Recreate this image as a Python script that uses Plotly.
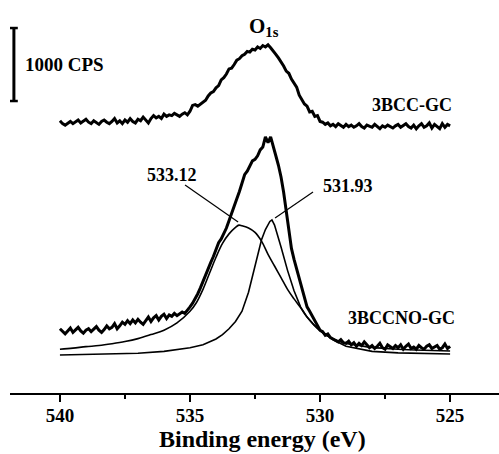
import numpy as np
import plotly.graph_objects as go

# ---- data ----
# measured spectra: binding energy 540.0 -> 525.0 eV, step 0.1 eV (CPS)
energy_raw = [round(540.0 - 0.1 * i, 1) for i in range(151)]

bcc_gc = [
    3730, 3690, 3670, 3700, 3720, 3690, 3710, 3740, 3700, 3720,
    3750, 3710, 3690, 3730, 3700, 3680, 3720, 3740, 3710, 3690,
    3720, 3760, 3700, 3730, 3690, 3740, 3710, 3760, 3720, 3700,
    3750, 3730, 3780, 3740, 3700, 3760, 3800, 3770, 3790, 3760,
    3820, 3790, 3810, 3800, 3830, 3810, 3790, 3820, 3840, 3810,
    3860, 3940, 3950, 3930, 3960, 3980, 4010, 4070, 4110, 4130,
    4180, 4210, 4290, 4320, 4370, 4440, 4450, 4500, 4560, 4580,
    4620, 4640, 4680, 4670, 4710, 4700, 4740, 4720, 4760, 4740,
    4770, 4730, 4690, 4640, 4590, 4540, 4480, 4410, 4380, 4300,
    4250, 4190, 4080, 4010, 3960, 3930, 3850, 3860, 3790, 3800,
    3720, 3710, 3680, 3700, 3660, 3680, 3650, 3690, 3660, 3640,
    3680, 3650, 3670, 3640, 3660, 3690, 3650, 3630, 3670, 3660,
    3640, 3680, 3650, 3620, 3660, 3640, 3670, 3650, 3630, 3660,
    3680, 3640, 3660, 3690, 3650, 3630, 3670, 3620, 3660, 3690,
    3640, 3660, 3700, 3630, 3680, 3650, 3620, 3690, 3640, 3680,
    3660,
]

bccno_gc = [
    880, 840, 810, 850, 890, 830, 870, 900, 850, 820,
    860, 880, 840, 870, 910, 860, 830, 870, 920, 880,
    900, 950, 880, 920, 970, 940, 990, 950, 1000, 960,
    1010, 970, 940, 990, 1040, 980, 1030, 1060, 1000, 1050,
    1080, 1020, 1070, 1050, 1090, 1060, 1080, 1110, 1090, 1130,
    1180, 1230, 1290, 1360, 1440, 1530, 1610, 1720, 1790, 1870,
    1960, 2060, 2110, 2180, 2260, 2360, 2470, 2580, 2660, 2760,
    2860, 2990, 3040, 3110, 3180, 3200, 3250, 3330, 3370, 3510,
    3430, 3510, 3360, 3250, 3120, 2960, 2750, 2470, 2200, 1980,
    1830, 1700, 1590, 1430, 1310, 1180, 1120, 1050, 990, 920,
    860, 840, 790, 810, 760, 740, 720, 700, 730, 690,
    680, 710, 660, 690, 640, 680, 650, 700, 660, 620,
    650, 610, 640, 680, 620, 600, 660, 630, 610, 650,
    620, 660, 600, 640, 670, 610, 630, 600, 650, 620,
    600, 640, 660, 610, 630, 650, 600, 620, 670, 610,
    640,
]

# fitted components
energy_fit1 = [540, 539.5, 539, 538.5, 538, 537.5, 537, 536.5, 536, 535.5, 535,
               534.75, 534.5, 534.25, 534, 533.75, 533.5, 533.25, 533.12, 533,
               532.75, 532.5, 532.25, 532, 531.75, 531.5, 531.25, 531, 530.75,
               530.5, 530, 529.5, 529, 528.5, 528, 527, 526, 525]
fit_533 = [600, 615, 635, 650, 675, 705, 745, 800, 860, 960, 1120,
           1240, 1420, 1640, 1860, 2050, 2180, 2270, 2300, 2290,
           2260, 2200, 2080, 1900, 1740, 1580, 1420, 1290, 1170,
           1040, 850, 740, 680, 650, 625, 600, 585, 575]

energy_fit2 = [540, 539, 538, 537, 536, 535, 534.5, 534, 533.75, 533.5, 533.25,
               533, 532.75, 532.5, 532.25, 532.1, 531.93, 531.85, 531.75, 531.5,
               531.25, 531, 530.75, 530.5, 530.25, 530, 529.5, 529, 528.5, 528,
               527, 526, 525]
fit_531 = [520, 525, 530, 545, 570, 620, 660, 740, 800, 880, 980,
           1120, 1380, 1740, 2100, 2240, 2350, 2370, 2300, 2000,
           1680, 1400, 1180, 1040, 940, 860, 730, 640, 600, 570,
           550, 540, 535]

x_ticks = [540, 535, 530, 525]
x_tick_labels = ["540", "535", "530", "525"]
x_minor_ticks = [537.5, 532.5, 527.5]

FONT = "Liberation Serif"

fig = go.Figure()
fig.add_trace(go.Scatter(x=energy_fit1, y=fit_533, mode="lines", line=dict(color="black", width=1.6, shape="spline"),
                         showlegend=False, hoverinfo="skip"))
fig.add_trace(go.Scatter(x=energy_fit2, y=fit_531, mode="lines", line=dict(color="black", width=1.6),
                         showlegend=False, hoverinfo="skip"))
fig.add_trace(go.Scatter(x=energy_raw, y=bcc_gc, mode="lines", line=dict(color="black", width=3),
                         showlegend=False))
fig.add_trace(go.Scatter(x=energy_raw, y=bccno_gc, mode="lines", line=dict(color="black", width=3),
                         showlegend=False))

# scale bar 1000 CPS
shapes = [
    dict(type="line", xref="x", yref="y", x0=541.77, x1=541.77, y0=4000, y1=5000, line=dict(color="black", width=3)),
    dict(type="line", xref="x", yref="y", x0=541.92, x1=541.62, y0=4000, y1=4000, line=dict(color="black", width=2.5)),
    dict(type="line", xref="x", yref="y", x0=541.92, x1=541.62, y0=5000, y1=5000, line=dict(color="black", width=2.5)),
    # leader lines
    dict(type="line", xref="x", yref="y", x0=535.19, y0=2850, x1=533.15, y1=2343, line=dict(color="black", width=1.2)),
    dict(type="line", xref="x", yref="y", x0=530.27, y0=2754, x1=531.73, y1=2398, line=dict(color="black", width=1.2)),
]

def ann(text, x, y, size, xanchor="center"):
    return dict(text=text, x=x, y=y, xref="x", yref="y", showarrow=False, xanchor=xanchor, yanchor="middle",
                font=dict(family=FONT, size=size, color="black"))

annotations = [
    ann("<b>O<sub>1s</sub></b>", 532.15, 5010, 21),
    ann("<b>1000 CPS</b>", 541.42, 4494, 19, xanchor="left"),
    ann("<b>3BCC-GC</b>", 526.46, 3946, 18),
    ann("<b>3BCCNO-GC</b>", 526.88, 1028, 18),
    ann("<b>533.12</b>", 535.71, 2987, 18),
    ann("<b>531.93</b>", 528.94, 2836, 18),
    dict(text="<b>Binding energy (eV)</b>", x=0.517, y=-0.1635, xref="paper", yref="paper",
         showarrow=False, xanchor="center", yanchor="bottom",
         font=dict(family=FONT, size=24, color="black")),
]

fig.update_layout(
    width=499, height=454,
    margin=dict(l=10, r=0, t=20, b=61),
    paper_bgcolor="white", plot_bgcolor="white",
    shapes=shapes, annotations=annotations,
    xaxis=dict(range=[541.92, 523.12], showgrid=False, zeroline=False,
               showline=True, linecolor="black", linewidth=2,
               tickmode="array", tickvals=x_ticks, ticktext=x_tick_labels,
               ticks="outside", ticklen=7, tickwidth=2, tickcolor="black",
               ticklabelstandoff=-3,
               minor=dict(tickvals=x_minor_ticks, ticks="outside", ticklen=4, tickwidth=2, tickcolor="black"),
               tickfont=dict(family=FONT, size=19, color="black", weight="bold")),
    yaxis=dict(range=[0, 5110], visible=False),
)

fig.write_html("out.html")
